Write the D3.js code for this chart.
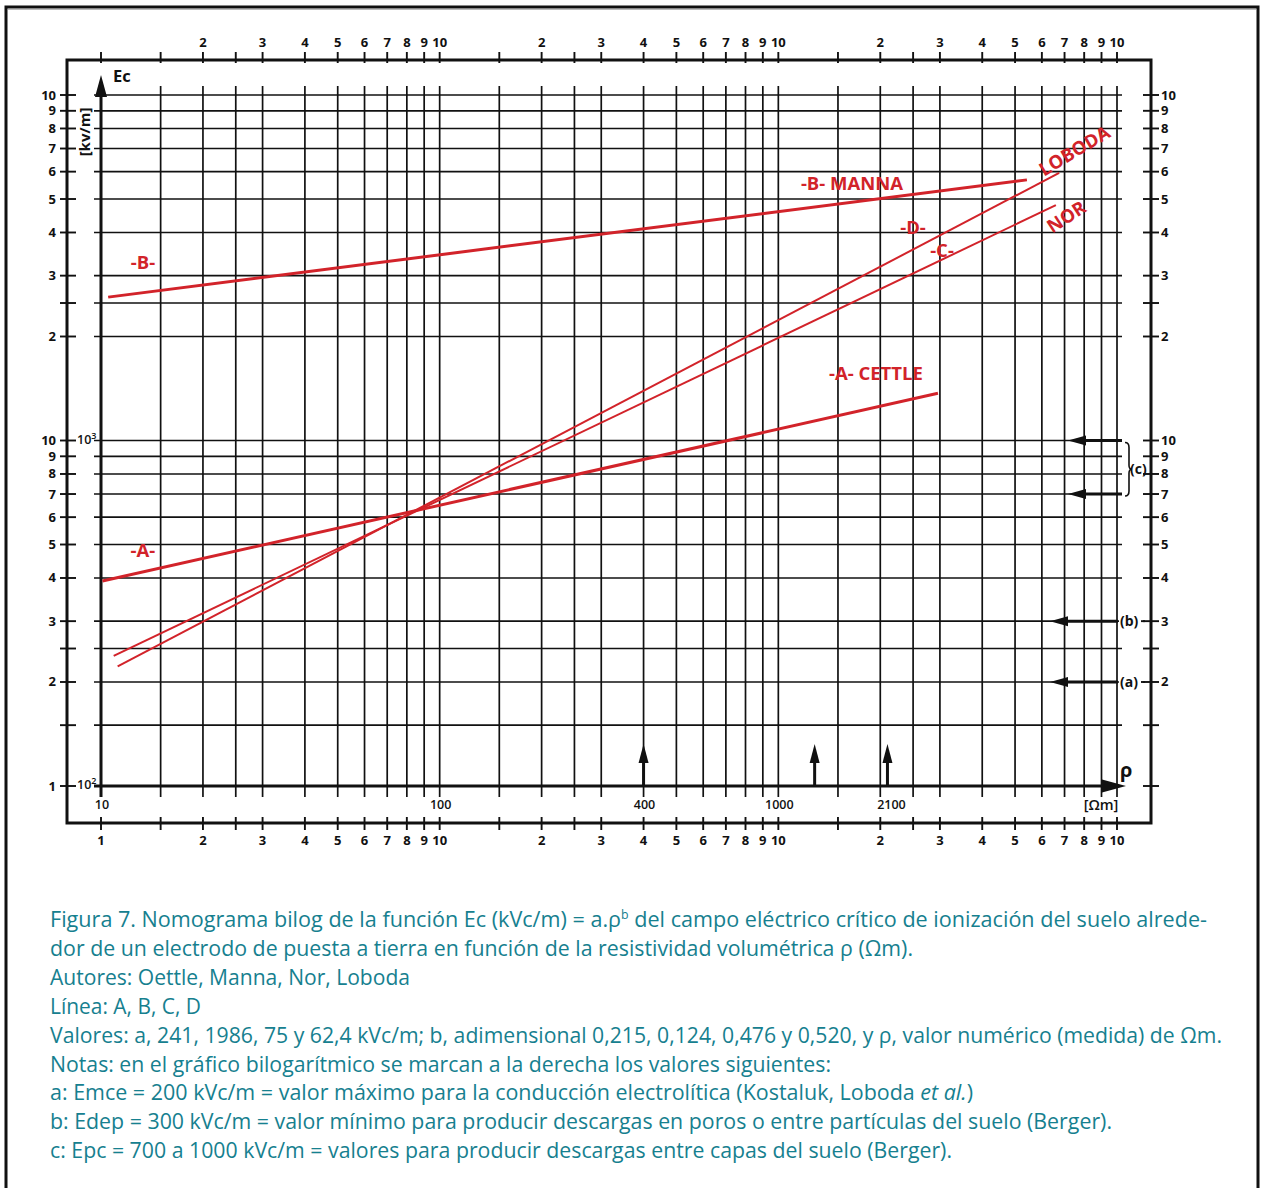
<!DOCTYPE html>
<html><head><meta charset="utf-8">
<script src="https://cdn.jsdelivr.net/npm/d3@7/dist/d3.min.js"></script>
<style>body{margin:0;background:#fff}svg{display:block}</style>
</head><body>
<svg id="c" width="1263" height="1188"></svg>
<script>
// ---------- data ----------
const rhoGridMantissas = [1, 1.5, 2, 2.5, 3, 4, 5, 6, 7, 8, 9];
const ecGridMantissasLower = [1, 1.5, 2, 2.5, 3, 4, 5, 6, 7, 8, 9];
const ecGridMantissasUpper = [1, 2, 2.5, 3, 4, 5, 6, 7, 8, 9];
const labelledMantissas = [2, 3, 4, 5, 6, 7, 8, 9];
const rhoDecades = [10, 100, 1000];
const ecDecades = [100, 1000];
const rhoDomain = [10, 10000];
const ecDomain = [100, 10000];

const lineA = [{rho: 10.1, ec: 392}, {rho: 2960, ec: 1370}];   // Oettle (Cettle)
const lineB = [{rho: 10.5, ec: 2600}, {rho: 5420, ec: 5680}];  // Manna
const lineC = [{rho: 10.9, ec: 238}, {rho: 6600, ec: 4800}];   // Nor
const lineD = [{rho: 11.2, ec: 222}, {rho: 6750, ec: 5950}];   // Loboda

const seriesLabels = [
  {text: "-B-", rho: 13.3, ec: 3307},
  {text: "-A-", rho: 13.3, ec: 485},
  {text: "-B- MANNA", rho: 1650, ec: 5600},
  {text: "-A- CETTLE", rho: 1941, ec: 1578},
  {text: "-D-", rho: 2498, ec: 4150},
  {text: "-C-", rho: 3043, ec: 3581},
  {text: "LOBODA", rho: 7465, ec: 6934},
  {text: "NOR", rho: 7060, ec: 4467}
];

const thresholdEc = [1000, 700, 300, 200];
const thresholdLabels = ["", "", "(b)", "(a)"];
const markerRho = [400, 1280, 2100];
const innerRhoLabels = [10, 100, 400, 1000, 2100];

const captionLines = [
  [{t: "Figura 7. Nomograma bilog de la función Ec (kVc/m) = a.ρ"}, {t: "b", sup: true}, {t: " del campo eléctrico crítico de ionización del suelo alrede-"}],
  [{t: "dor de un electrodo de puesta a tierra en función de la resistividad volumétrica ρ (Ωm)."}],
  [{t: "Autores: Oettle, Manna, Nor, Loboda"}],
  [{t: "Línea: A, B, C, D"}],
  [{t: "Valores: a, 241, 1986, 75 y 62,4 kVc/m; b, adimensional 0,215, 0,124, 0,476 y 0,520, y ρ, valor numérico (medida) de Ωm."}],
  [{t: "Notas: en el gráfico bilogarítmico se marcan a la derecha los valores siguientes:"}],
  [{t: "a: Emce = 200 kVc/m = valor máximo para la conducción electrolítica (Kostaluk, Loboda "}, {t: "et al.", it: true}, {t: ")"}],
  [{t: "b: Edep = 300 kVc/m = valor mínimo para producir descargas en poros o entre partículas del suelo (Berger)."}],
  [{t: "c: Epc = 700 a 1000 kVc/m = valores para producir descargas entre capas del suelo (Berger)."}]
];
const captionWidths = [1157, 863, 360, 151, 1172, 781, 923, 1062, 902];

// ---------- layout ----------
const svg = d3.select("#c");
const RED = "#d2232a", TEAL = "#16808f", INK = "#111";
const FONT = "'Open Sans', 'Noto Sans', sans-serif";
const x = d3.scaleLog().domain(rhoDomain).range([101, 1117]);
const y = d3.scaleLog().domain(ecDomain).range([786, 95]);
const frame = {l: 67, t: 60, r: 1151, b: 823};

svg.append("rect").attr("width", 1263).attr("height", 1188).attr("fill", "#fff");
// outer border
svg.append("path").attr("d", "M6,1188 V7 H1258 V1188").attr("fill", "none")
  .attr("stroke", INK).attr("stroke-width", 3);
svg.append("line").attr("x1", 8).attr("x2", 1256).attr("y1", 9.5).attr("y2", 9.5)
  .attr("stroke", "#bbb").attr("stroke-width", 1);

// frame
svg.append("rect").attr("x", frame.l).attr("y", frame.t)
  .attr("width", frame.r - frame.l).attr("height", frame.b - frame.t)
  .attr("fill", "none").attr("stroke", INK).attr("stroke-width", 3);

const xGrid = [];
rhoDecades.forEach(d => rhoGridMantissas.forEach(m => xGrid.push(d * m)));
xGrid.push(rhoDomain[1]);
const yGrid = [];
ecGridMantissasLower.forEach(m => yGrid.push(ecDecades[0] * m));
ecGridMantissasUpper.forEach(m => yGrid.push(ecDecades[1] * m));
yGrid.push(ecDomain[1]);

const mant = v => Math.round(v / Math.pow(10, Math.floor(Math.log10(v) + 1e-9)) * 10) / 10;
const isLabelled = v => labelledMantissas.includes(mant(v));
const isDecade = v => Math.abs(Math.log10(v) - Math.round(Math.log10(v))) < 1e-9;

const g = svg.append("g");
// vertical grid
g.selectAll(".vg").data(xGrid.filter(v => v !== rhoDomain[0])).enter().append("line")
  .attr("x1", d => x(d)).attr("x2", d => x(d)).attr("y1", 86).attr("y2", 797)
  .attr("stroke", INK).attr("stroke-width", 1.7);
// horizontal grid
g.selectAll(".hg").data(yGrid.filter(v => v !== ecDomain[0])).enter().append("line")
  .attr("x1", 94).attr("x2", d => (d === 300 || d === 200) ? 1119 : 1122)
  .attr("y1", d => y(d)).attr("y2", d => y(d))
  .attr("stroke", INK).attr("stroke-width", 1.7);

// top / bottom frame ticks
[{y1: 52, y2: 63}, {y1: 817, y2: 830}].forEach(t => {
  g.selectAll(null).data(xGrid).enter().append("line")
    .attr("x1", d => x(d)).attr("x2", d => x(d)).attr("y1", t.y1).attr("y2", t.y2)
    .attr("stroke", INK).attr("stroke-width", 1.9);
});
// left / right frame ticks
[{x1: 60, x2: 76}, {x1: 1143, x2: 1159}].forEach(t => {
  g.selectAll(null).data(yGrid).enter().append("line")
    .attr("x1", t.x1).attr("x2", t.x2).attr("y1", d => y(d)).attr("y2", d => y(d))
    .attr("stroke", INK).attr("stroke-width", 1.9);
});

const lblStyle = s => s.attr("font-family", FONT).attr("font-weight", 700)
  .attr("font-size", 13).attr("fill", INK);
const mantText = d => String(Math.round(mant(d)));

// top labels
g.selectAll(null).data(xGrid.filter(v => (isLabelled(v) || isDecade(v)) && v !== rhoDomain[0])).enter()
  .append("text").call(lblStyle)
  .attr("x", d => x(d)).attr("y", 47).attr("text-anchor", "middle")
  .text(d => isDecade(d) ? "10" : mantText(d));
// bottom labels
g.selectAll(null).data(xGrid.filter(v => isLabelled(v) || isDecade(v))).enter().append("text").call(lblStyle)
  .attr("x", d => x(d)).attr("y", 845).attr("text-anchor", "middle")
  .text(d => d === rhoDomain[0] ? "1" : isDecade(d) ? "10" : mantText(d));
// left labels
g.selectAll(null).data(yGrid.filter(v => isLabelled(v) || isDecade(v))).enter().append("text").call(lblStyle)
  .attr("x", 56).attr("y", d => y(d) + 4.5).attr("text-anchor", "end")
  .text(d => d === ecDomain[0] ? "1" : isDecade(d) ? "10" : mantText(d));
// right labels
g.selectAll(null).data(yGrid.filter(v => (isLabelled(v) || isDecade(v)) && v !== ecDomain[0])).enter()
  .append("text").call(lblStyle)
  .attr("x", 1161).attr("y", d => y(d) + 4.5).attr("text-anchor", "start")
  .text(d => isDecade(d) ? "10" : mantText(d));

// inner power labels 10^3, 10^2
[1000, 100].forEach(v => {
  const t = g.append("text").attr("font-family", FONT).attr("font-size", 12.5).attr("font-weight", 600)
    .attr("fill", INK).attr("x", 77).attr("y", y(v) + 3);
  t.append("tspan").text("10");
  t.append("tspan").attr("font-size", 9).attr("dy", -5).text(String(Math.round(Math.log10(v))));
});

// axes (thick)
g.append("line").attr("x1", x(rhoDomain[0])).attr("x2", x(rhoDomain[0])).attr("y1", 797).attr("y2", 94)
  .attr("stroke", INK).attr("stroke-width", 3);
g.append("path").attr("d", `M${x(rhoDomain[0]) - 6},97 L${x(rhoDomain[0])},75 L${x(rhoDomain[0]) + 6},97 Z`).attr("fill", INK);
g.append("line").attr("x1", 94).attr("x2", 1104).attr("y1", y(ecDomain[0])).attr("y2", y(ecDomain[0]))
  .attr("stroke", INK).attr("stroke-width", 3);
g.append("path").attr("d", `M1102,${y(ecDomain[0]) - 6.5} L1126,${y(ecDomain[0])} L1102,${y(ecDomain[0]) + 6.5} Z`).attr("fill", INK);

// axis titles
g.append("text").attr("font-family", FONT).attr("font-weight", 700).attr("font-size", 16.5)
  .attr("x", 113).attr("y", 82).attr("fill", INK).text("Ec");
g.append("text").attr("font-family", FONT).attr("font-weight", 700).attr("font-size", 15)
  .attr("transform", "translate(90,132) rotate(-90)").attr("text-anchor", "middle")
  .attr("fill", INK).text("[kv/m]");
g.append("text").attr("font-family", FONT).attr("font-weight", 700).attr("font-size", 20)
  .attr("x", 1120).attr("y", 777).attr("fill", INK).text("ρ");
g.append("text").attr("font-family", FONT).attr("font-weight", 600).attr("font-size", 14.5)
  .attr("x", 1101).attr("y", 810).attr("text-anchor", "middle").attr("fill", INK).text("[Ωm]");

// inner rho labels
g.selectAll(null).data(innerRhoLabels).enter().append("text")
  .attr("font-family", FONT).attr("font-weight", 600).attr("font-size", 12.5).attr("fill", INK)
  .attr("x", d => x(d) + (d === 2100 ? 4 : 1)).attr("y", 809).attr("text-anchor", "middle")
  .text(d => String(d));

// up arrows at marked rho
markerRho.forEach(r => {
  const cx = x(r);
  g.append("line").attr("x1", cx).attr("x2", cx).attr("y1", y(ecDomain[0])).attr("y2", 760)
    .attr("stroke", INK).attr("stroke-width", 3);
  g.append("path").attr("d", `M${cx - 5},763 L${cx},744 L${cx + 5},763 Z`).attr("fill", INK);
});

// right threshold arrows
thresholdEc.forEach((e, i) => {
  const cy = y(e);
  const big = i < 2;
  const xEnd = big ? 1122 : 1118, tip = big ? 1068 : 1050;
  g.append("line").attr("x1", tip + 14).attr("x2", xEnd).attr("y1", cy).attr("y2", cy)
    .attr("stroke", INK).attr("stroke-width", 3);
  g.append("path").attr("d", `M${tip + 18},${cy - 5} L${tip},${cy} L${tip + 18},${cy + 5} Z`).attr("fill", INK);
  if (thresholdLabels[i]) {
    g.append("text").attr("font-family", FONT).attr("font-weight", 700).attr("font-size", 14)
      .attr("x", 1120).attr("y", cy + 5).attr("fill", INK).text(thresholdLabels[i]);
    g.append("line").attr("x1", 1141).attr("x2", 1145).attr("y1", cy).attr("y2", cy)
      .attr("stroke", INK).attr("stroke-width", 1.9);
  }
});
// brace for (c)
{
  const y1 = y(thresholdEc[0]) + 2, y2 = y(thresholdEc[1]) + 2, ym = (y1 + y2) / 2;
  g.append("path").attr("d",
    `M1125,${y1} Q1129,${y1} 1129,${y1 + 5} L1129,${ym - 4} Q1129,${ym} 1132,${ym} Q1129,${ym} 1129,${ym + 4} L1129,${y2 - 5} Q1129,${y2} 1125,${y2}`)
    .attr("fill", "none").attr("stroke", INK).attr("stroke-width", 1.6);
  g.append("text").attr("font-family", FONT).attr("font-weight", 700).attr("font-size", 14)
    .attr("x", 1130).attr("y", ym + 5).attr("fill", INK).text("(c)");
}

// ---------- series lines ----------
const lineGen = d3.line().x(d => x(d.rho)).y(d => y(d.ec));
const series = [lineA, lineB, lineC, lineD];
const widths = [3, 3, 2, 2];
series.forEach((s, i) => {
  g.append("path").datum(s).attr("d", lineGen).attr("fill", "none")
    .attr("stroke", RED).attr("stroke-width", widths[i]).attr("stroke-linecap", "butt");
});

// series labels
const labelRotation = {"LOBODA": -31, "NOR": -33};
seriesLabels.forEach(l => {
  const px = x(l.rho), py = y(l.ec);
  g.append("text").attr("font-family", FONT).attr("font-weight", 700).attr("font-size", 18.5)
    .attr("fill", RED).attr("text-anchor", "middle").attr("dominant-baseline", "central")
    .attr("transform", `translate(${px},${py}) rotate(${labelRotation[l.text] || 0})`)
    .text(l.text);
});

// ---------- caption ----------
const cap = svg.append("g").attr("font-family", FONT).attr("font-size", 21).attr("fill", TEAL);
captionLines.forEach((parts, i) => {
  const t = cap.append("text").attr("x", 50).attr("y", 927 + i * 28.9)
    .attr("textLength", captionWidths[i]).attr("lengthAdjust", "spacingAndGlyphs");
  parts.forEach((p, j) => {
    const ts = t.append("tspan").text(p.t);
    if (p.sup) ts.attr("font-size", 12).attr("dy", -8);
    if (p.it) ts.attr("font-style", "italic");
    if (!p.sup && j > 0 && parts[j - 1].sup) ts.attr("dy", 8);
  });
});
</script>
</body></html>
